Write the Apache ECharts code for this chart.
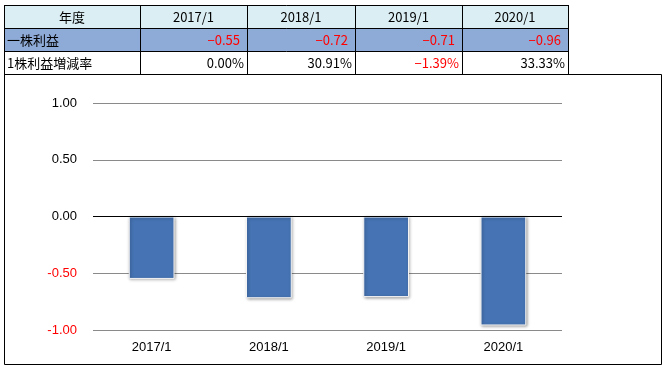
<!DOCTYPE html>
<html><head><meta charset="utf-8">
<script src="https://cdn.jsdelivr.net/npm/echarts@6/dist/echarts.min.js"></script>
<style>html,body{margin:0;padding:0;background:#fff;}#c{width:668px;height:367px;}</style>
</head><body><div id="c"></div>
<script>
var categories = ['2017/1','2018/1','2019/1','2020/1'];
var eps = [-0.55, -0.72, -0.71, -0.96];
var epsChange = [0.00, 30.91, -1.39, 33.33];
var headerLabel = '年度';
var rowLabels = ['一株利益','1株利益増減率'];
var yTicks = [-1, -0.5, 0, 0.5, 1];

var colX = [4, 140, 247, 355, 462, 568];
var rowY = [5, 28, 51, 74];
var tfont = '"Noto Sans CJK JP", sans-serif';
var tsize = '13px ';

function fmtNum(v, d){ var s = Math.abs(v).toFixed(d); return (v < 0 ? '\u2212' : '') + s; }

var g = [];
g.push({type:'rect', shape:{x:colX[0], y:rowY[0], width:colX[5]-colX[0], height:rowY[1]-rowY[0]}, style:{fill:'#dbeef4'}, z:1});
g.push({type:'rect', shape:{x:colX[0], y:rowY[1], width:colX[5]-colX[0], height:rowY[2]-rowY[1]}, style:{fill:'#8eaad6'}, z:1});
for (var i=0;i<rowY.length;i++){
  g.push({type:'line', shape:{x1:colX[0], y1:rowY[i]+0.5, x2:colX[5]+0.5, y2:rowY[i]+0.5}, style:{stroke:'#000', lineWidth:1}, z:3});
}
for (var j=0;j<colX.length;j++){
  g.push({type:'line', shape:{x1:colX[j]+0.5, y1:rowY[0], x2:colX[j]+0.5, y2:rowY[3]}, style:{stroke:'#000', lineWidth:1}, z:3});
}
g.push({type:'text', x:(colX[0]+colX[1])/2, y:(rowY[0]+rowY[1])/2+1, style:{text:headerLabel, font:tsize+tfont, fill:'#000', textAlign:'center', textVerticalAlign:'middle'}, z:4});
categories.forEach(function(c,k){
  g.push({type:'text', x:(colX[k+1]+colX[k+2])/2, y:(rowY[0]+rowY[1])/2+1, style:{text:c, font:tsize+tfont, fill:'#000', textAlign:'center', textVerticalAlign:'middle'}, z:4});
});
rowLabels.forEach(function(r,k){
  g.push({type:'text', x:colX[0]+3, y:(rowY[k+1]+rowY[k+2])/2+1, style:{text:r, font:tsize+tfont, fill:'#000', textAlign:'left', textVerticalAlign:'middle'}, z:4});
});
eps.forEach(function(v,k){
  g.push({type:'text', x:colX[k+2]-7, y:(rowY[1]+rowY[2])/2+1, style:{text:fmtNum(v,2), font:tsize+tfont, fill:v<0?'#ff0000':'#000', textAlign:'right', textVerticalAlign:'middle'}, z:4});
});
epsChange.forEach(function(v,k){
  g.push({type:'text', x:colX[k+2]-3, y:(rowY[2]+rowY[3])/2+1, style:{text:fmtNum(v,2)+'%', font:tsize+tfont, fill:v<0?'#ff0000':'#000', textAlign:'right', textVerticalAlign:'middle'}, z:4});
});
g.push({type:'rect', shape:{x:4.5, y:74.5, width:657, height:290}, style:{fill:null, stroke:'#000', lineWidth:1}, z:2});

var chart = echarts.init(document.getElementById('c'), null, {renderer:'canvas'});
chart.setOption({
  animation:false,
  backgroundColor:'#fff',
  grid:{left:93, right:106, top:103, bottom:37},
  xAxis:{type:'category', data:categories, axisLine:{show:false}, axisTick:{show:false},
    axisLabel:{margin:11, fontFamily:'"Liberation Sans", Arial, sans-serif', fontSize:13, color:'#000'}},
  yAxis:{type:'value', min:yTicks[0], max:yTicks[yTicks.length-1], interval:0.5,
    axisLine:{show:false}, axisTick:{show:false},
    splitLine:{lineStyle:{color:'#8a8a8a', width:1}},
    axisLabel:{margin:16, fontFamily:'"Liberation Sans", Arial, sans-serif', fontSize:13,
      formatter:function(v){return v.toFixed(2);},
      color:function(v){return Number(v)<0?'#ff0000':'#000';}}},
  series:[{type:'bar', data:eps, barWidth:'39%',
    itemStyle:{color:'#4573b3', borderColor:'#f4f4f4', borderWidth:1, shadowColor:'rgba(0,0,0,0.35)', shadowBlur:3, shadowOffsetX:1, shadowOffsetY:1},
    markLine:{silent:true, symbol:'none', label:{show:false}, lineStyle:{color:'#000', type:'solid', width:1}, data:[{yAxis:0}]}
  }],
  graphic:g
});
</script></body></html>
